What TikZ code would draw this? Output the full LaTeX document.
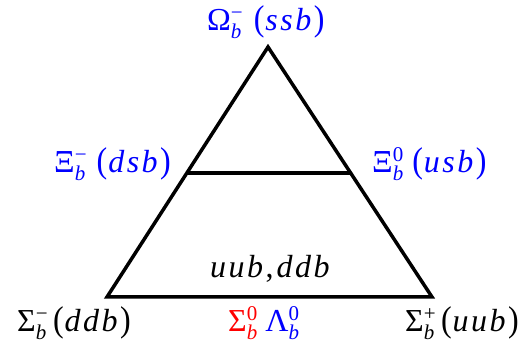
\documentclass[tikz,border=0pt]{standalone}
\usepackage{fontspec}
\usetikzlibrary{calc}
\setmainfont{Liberation Serif}
\newsavebox\sbbox
\newsavebox\spbox
\newlength\sbw
\newcommand{\sbsp}[2]{{\fontsize{21}{21}\selectfont\sbox\sbbox{\itshape #1}\sbox\spbox{#2}%
  \sbw=\wd\sbbox\ifdim\wd\spbox>\sbw\sbw=\wd\spbox\fi
  \rlap{\raisebox{11pt}{\usebox\spbox}}\raisebox{-8pt}{\usebox\sbbox}\hspace{\dimexpr\sbw-\wd\sbbox\relax}}}
\newcommand{\lpar}{{\fontsize{32}{32}\selectfont\scalebox{1}[1.12]{(}\kern1pt}}
\newcommand{\rpar}{{\fontsize{32}{32}\selectfont\scalebox{1}[1.12]{)}}}
\def\qkloop#1{\ifx#1\relax\else#1\kern2.5pt\expandafter\qkloop\fi}
\newcommand{\qk}[1]{{\fontsize{32}{32}\selectfont\itshape\qkloop#1\relax}}
\begin{document}
\begin{tikzpicture}[x=1pt,y=1pt,
  edge/.style={line width=3.5pt,line join=miter,line cap=butt},
  lbl/.style={inner sep=0pt,anchor=base west,font=\fontsize{32}{34}\selectfont}]
\useasboundingbox (0,0) rectangle (532,344);
\coordinate (top) at (268,297);
\coordinate (bl) at (107,47);
\coordinate (br) at (432,47);
\coordinate (ml) at ($(top)!0.504!(bl)$);
\coordinate (mr) at ($(top)!0.504!(br)$);
\draw[edge] (top) -- (bl) -- (br) -- cycle;
\draw[edge] (ml) -- (mr);
\node[lbl,text=blue] (om) at (207,313) {Ω\sbsp{b}{−}\hspace{11pt}\lpar\qk{ssb}\rpar};
\node[lbl,text=blue] (xim) at (54,171) {Ξ\sbsp{b}{−}\hspace{10pt}\lpar\qk{dsb}\rpar};
\node[lbl,text=blue] (xiz) at (372,171) {Ξ\sbsp{b}{0}\hspace{9pt}\lpar\qk{usb}\rpar};
\node[lbl] (mid) at (210,66) {\qk{uub},\kern3pt\qk{ddb}};
\node[lbl] (sm) at (17,12.5) {Σ\sbsp{b}{−}\,\lpar\qk{ddb}\rpar};
\node[lbl] (lz) at (228,12.5) {\textcolor{red}{Σ\sbsp{b}{0}}\kern8pt\textcolor{blue}{Λ\sbsp{b}{0}}};
\node[lbl] (sp) at (405,12.5) {Σ\sbsp{b}{+}\,\lpar\qk{uub}\rpar};
\end{tikzpicture}
\end{document}
